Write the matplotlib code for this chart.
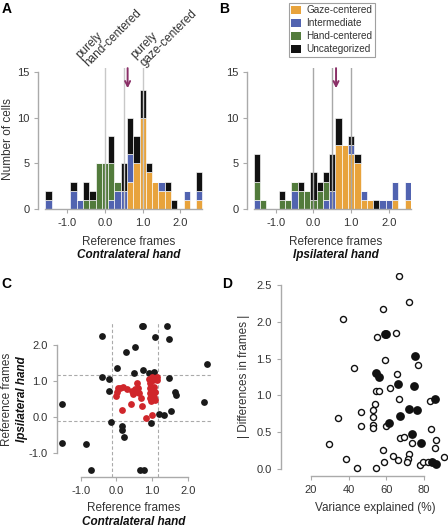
import numpy as np
import matplotlib
matplotlib.use('Agg')
import matplotlib.pyplot as plt
from matplotlib.patches import Patch

plt.rcParams['font.family'] = ['Liberation Sans', 'DejaVu Sans']
plt.rcParams['font.size'] = 8
plt.rcParams['axes.unicode_minus'] = False

# histogram bins: centres at k/6, k = -9 .. 15
bin_k = np.arange(-9, 16)
centers = bin_k / 6.0

# panel A, contralateral hand (counts per bin, stacked bottom->top)
gaze_a = [0, 0, 0, 0, 0, 0, 0, 0, 0, 0, 0, 0, 0, 3, 5, 10, 4, 3, 2, 2, 0, 0, 1, 0, 1]
inter_a = [1, 0, 0, 0, 2, 1, 0, 0, 0, 0, 1, 2, 2, 3, 0, 0, 0, 0, 1, 0, 0, 0, 1, 0, 1]
hand_a = [0, 0, 0, 0, 0, 0, 1, 1, 5, 5, 4, 1, 0, 0, 0, 0, 0, 0, 0, 0, 0, 0, 0, 0, 0]
uncat_a = [1, 0, 0, 0, 1, 0, 2, 1, 0, 0, 3, 0, 3, 4, 3, 3, 1, 0, 0, 1, 1, 0, 0, 0, 2]

# panel B, ipsilateral hand
gaze_b = [0, 0, 0, 0, 0, 0, 0, 0, 0, 0, 0, 0, 0, 7, 7, 6, 5, 1, 1, 0, 0, 0, 1, 0, 1]
inter_b = [1, 0, 0, 0, 0, 0, 2, 0, 0, 0, 0, 1, 2, 0, 0, 1, 0, 1, 0, 0, 1, 1, 2, 0, 2]
hand_b = [2, 1, 0, 0, 1, 1, 1, 2, 2, 1, 2, 2, 0, 0, 0, 0, 0, 0, 0, 0, 0, 0, 0, 0, 0]
uncat_b = [3, 0, 0, 0, 1, 0, 0, 1, 0, 3, 1, 1, 4, 3, 0, 1, 1, 0, 0, 1, 0, 0, 0, 0, 0]

categories = ['Gaze-centered', 'Intermediate', 'Hand-centered', 'Uncategorized']
cat_colors = ['#e8a33c', '#5163b0', '#527b3c', '#111111']

# panel C: reference frame of contralateral (x) vs ipsilateral (y) hand
c_black_x = [0.71, 0.76, 1.43, -0.39, 1.08, 1.48, 0.52, 0.27, 0.03, 0.50, 0.74, 0.91,
             1.07, 2.53, -0.39, -0.21, 1.48, -0.21, 1.64, 1.66, -1.51, 2.46, 1.20, 1.34,
             1.53, 0.96, -0.16, 0.15, 0.17, 0.22, -1.51, -0.84, -0.72, 0.66, 0.77]
c_black_y = [2.53, 2.53, 2.53, 2.26, 2.23, 2.18, 1.96, 1.81, 1.36, 1.24, 1.30, 1.22,
             1.26, 1.47, 1.12, 1.05, 1.08, 0.73, 0.69, 0.60, 0.35, 0.41, 0.08, 0.07,
             0.16, -0.18, -0.15, -0.24, -0.36, -0.55, -0.71, -0.75, -1.48, -1.48, -1.48]
c_red_x = [-0.01, 0.01, 0.05, 0.20, 0.31, 0.43, 0.46, 0.59, 0.62, 0.64, 0.68, 0.41,
           0.17, 0.72, 0.82, 1.01, 0.92, 0.95, 1.04, 1.13, 1.15, 0.95, 1.06, 0.95,
           1.08, 0.95, 1.07, 0.97, 1.09, 0.10, 0.52, 0.57, 1.00]
c_red_y = [0.59, 0.70, 0.80, 0.84, 0.78, 0.72, 0.65, 0.94, 0.81, 0.67, 0.53, 0.36,
           0.19, 0.31, -0.04, 0.06, 1.05, 0.94, 1.02, 1.12, 1.02, 0.80, 0.84, 0.66,
           0.71, 0.52, 0.56, 0.45, 0.47, 0.82, 0.78, 0.70, 1.12]

# panel D: variance explained vs |difference in frames|
d_open_x = [66.9, 72.2, 58.3, 36.9, 65.1, 55.3, 59.2, 42.8, 77.0, 65.8, 62.2, 54.8,
            56.0, 66.9, 83.3, 53.9, 53.0, 46.7, 53.0, 34.3, 46.7, 53.0, 53.0, 60.1,
            83.8, 67.2, 69.6, 73.5, 86.3, 29.8, 85.9, 58.0, 63.3, 72.2, 38.7, 66.0,
            71.3, 90.8, 59.0, 71.1, 44.6, 54.8, 77.9, 79.4, 82.0, 84.5]
d_open_y = [2.62, 2.27, 2.17, 2.04, 1.85, 1.80, 1.48, 1.38, 1.41, 1.29, 1.10, 1.06,
            1.06, 0.95, 0.93, 0.88, 0.80, 0.77, 0.71, 0.69, 0.58, 0.60, 0.56, 0.58,
            0.54, 0.42, 0.43, 0.36, 0.40, 0.34, 0.29, 0.26, 0.18, 0.20, 0.14, 0.13,
            0.14, 0.16, 0.10, 0.09, 0.02, 0.02, 0.06, 0.10, 0.09, 0.09]
d_fill_x = [59.2, 60.0, 75.3, 54.8, 56.0, 66.0, 74.9, 86.0, 71.8, 76.2, 67.2, 61.5,
            73.5, 78.5, 84.2, 86.3]
d_fill_y = [1.83, 1.83, 1.53, 1.30, 1.25, 1.15, 1.13, 0.95, 0.81, 0.80, 0.72, 0.63,
            0.48, 0.36, 0.09, 0.07]

TXT = '#333333'
SPINE = '#aaaaaa'
PURPLE = '#8a2f67'

fig = plt.figure(figsize=(4.48, 5.28), dpi=100)


def style_axes(ax):
    for s in ['top', 'right']:
        ax.spines[s].set_visible(False)
    for s in ['left', 'bottom']:
        ax.spines[s].set_color(SPINE)
        ax.spines[s].set_linewidth(1.0)
    ax.tick_params(colors=SPINE, labelcolor=TXT, length=3, width=0.8, labelsize=8)


def hist_panel(ax, layers, line_color):
    bottom = np.zeros(len(centers))
    for vals, col in zip(layers, cat_colors):
        vals = np.array(vals)
        ax.bar(centers, vals, width=1 / 6, bottom=bottom, color=col,
               edgecolor='white', linewidth=0.45, zorder=2)
        bottom += vals
    for xv in [0, 0.5, 1.0]:
        ax.axvline(xv, color=line_color, lw=1.0, zorder=3)
    ax.set_ylim(0, 15.4)
    ax.set_yticks([0, 5, 10, 15])
    ax.set_xticks([-1, 0, 1, 2])
    ax.set_xticklabels(['-1.0', '0.0', '1.0', '2.0'])
    style_axes(ax)
    ax.spines['left'].set_bounds(0, 15)
    ax.spines['bottom'].set_bounds(-1.583, 2.583)
    ax.annotate('', xy=(0.6, 12.9), xytext=(0.6, 15.7),
                arrowprops=dict(arrowstyle='->', color=PURPLE, lw=1.4,
                                mutation_scale=9),
                annotation_clip=False, zorder=5)


# ---- A
axA = fig.add_axes([0.0855, 0.604, 0.3676, 0.267])
hist_panel(axA, [gaze_a, inter_a, hand_a, uncat_a], '#c8c8c8')
axA.set_xlim(-1.77, 2.6)
axA.text(-0.182, 0.5, 'Number of cells', transform=axA.transAxes, rotation=90,
         ha='center', va='center', fontsize=8.5, color=TXT)
axA.text(0.548, -0.234, 'Reference frames', transform=axA.transAxes,
         ha='center', va='center', fontsize=8.5, color=TXT)
axA.text(0.548, -0.326, 'Contralateral hand', transform=axA.transAxes,
         ha='center', va='center', fontsize=8.5, color='#111111',
         fontweight='bold', fontstyle='italic')
axA.text(-0.38, 15.25, 'purely\nhand-centered', rotation=45, rotation_mode='anchor',
         ha='left', va='bottom', fontsize=8.5, color=TXT, linespacing=1.05,
         clip_on=False)
axA.text(1.1, 15.25, 'purely\ngaze-centered', rotation=45, rotation_mode='anchor',
         ha='left', va='bottom', fontsize=8.5, color=TXT, linespacing=1.05,
         clip_on=False)

# ---- B
axB = fig.add_axes([0.552, 0.604, 0.365, 0.267])
hist_panel(axB, [gaze_b, inter_b, hand_b, uncat_b], '#a8a8a8')
axB.set_xlim(-1.75, 2.58)
axB.text(0.541, -0.234, 'Reference frames', transform=axB.transAxes,
         ha='center', va='center', fontsize=8.5, color=TXT)
axB.text(0.541, -0.326, 'Ipsilateral hand', transform=axB.transAxes,
         ha='center', va='center', fontsize=8.5, color='#111111',
         fontweight='bold', fontstyle='italic')
handles = [Patch(facecolor=c, edgecolor='none', label=l)
           for c, l in zip(cat_colors, categories)]
leg = fig.legend(handles=handles, loc='upper left', bbox_to_anchor=(0.645, 0.995),
                 fontsize=7.2, frameon=True, fancybox=False, handlelength=1.0,
                 handleheight=0.85, handletextpad=0.5, labelspacing=0.3,
                 borderpad=0.25, borderaxespad=0)
leg.get_frame().set_edgecolor('#888888')
leg.get_frame().set_linewidth(0.8)
for t in leg.get_texts():
    t.set_color(TXT)

# ---- C
axC = fig.add_axes([0.1266, 0.096, 0.344, 0.2943])
axC.scatter(c_black_x, c_black_y, s=24, color='#1a1a1a', linewidths=0, zorder=3)
axC.scatter(c_red_x, c_red_y, s=24, color='#d0262b', linewidths=0, zorder=4)
for v in [-0.12, 1.18]:
    axC.axvline(v, color='#aaaaaa', lw=0.8, ls=(0, (3, 2)), zorder=1)
    axC.axhline(v, color='#aaaaaa', lw=0.8, ls=(0, (3, 2)), zorder=1)
axC.set_xlim(-1.67, 2.65)
axC.set_ylim(-1.68, 2.65)
axC.set_xticks([-1, 0, 1, 2])
axC.set_xticklabels(['-1.0', '0.0', '1.0', '2.0'])
axC.set_yticks([-1, 0, 1, 2])
axC.set_yticklabels(['-1.0', '0.0', '1.0', '2.0'])
style_axes(axC)
axC.spines['left'].set_bounds(-1, 2)
axC.spines['bottom'].set_bounds(-1, 2)
axC.text(0.5, -0.198, 'Reference frames', transform=axC.transAxes,
         ha='center', va='center', fontsize=8.5, color=TXT)
axC.text(0.5, -0.285, 'Contralateral hand', transform=axC.transAxes,
         ha='center', va='center', fontsize=8.5, color='#111111',
         fontweight='bold', fontstyle='italic')
axC.text(-0.325, 0.5, 'Reference frames', transform=axC.transAxes, rotation=90,
         ha='center', va='center', fontsize=8.5, color=TXT)
axC.text(-0.225, 0.5, 'Ipsilateral hand', transform=axC.transAxes, rotation=90,
         ha='center', va='center', fontsize=8.5, color='#111111',
         fontweight='bold', fontstyle='italic')

# ---- D
axD = fig.add_axes([0.6266, 0.099, 0.3723, 0.3848])
axD.scatter(d_open_x, d_open_y, s=19, facecolors='white', edgecolors='#111111',
            linewidths=1.0, zorder=3)
axD.scatter(d_fill_x, d_fill_y, s=40, color='#111111', linewidths=0, zorder=4)
axD.set_xlim(3.96, 92.5)
axD.set_ylim(-0.09, 2.67)
axD.set_xticks([20, 40, 60, 80])
axD.set_yticks([0, 0.5, 1.0, 1.5, 2.0, 2.5])
axD.set_yticklabels(['0.0', '0.5', '1.0', '1.5', '2.0', '2.5'])
style_axes(axD)
axD.spines['left'].set_bounds(0, 2.5)
axD.spines['bottom'].set_bounds(20, 80)
axD.text(0.57, -0.16, 'Variance explained (%)', transform=axD.transAxes,
         ha='center', va='center', fontsize=8.5, color=TXT)
axD.text(-0.22, 0.49, '| Differences in frames |', transform=axD.transAxes,
         rotation=90, ha='center', va='center', fontsize=8.5, color=TXT)

# panel letters
for lab, x, y in [('A', 0.004, 0.997), ('B', 0.49, 0.997),
                  ('C', 0.004, 0.475), ('D', 0.495, 0.475)]:
    fig.text(x, y, lab, fontsize=10, fontweight='bold', ha='left', va='top')

fig.savefig('out.png', dpi=100)
